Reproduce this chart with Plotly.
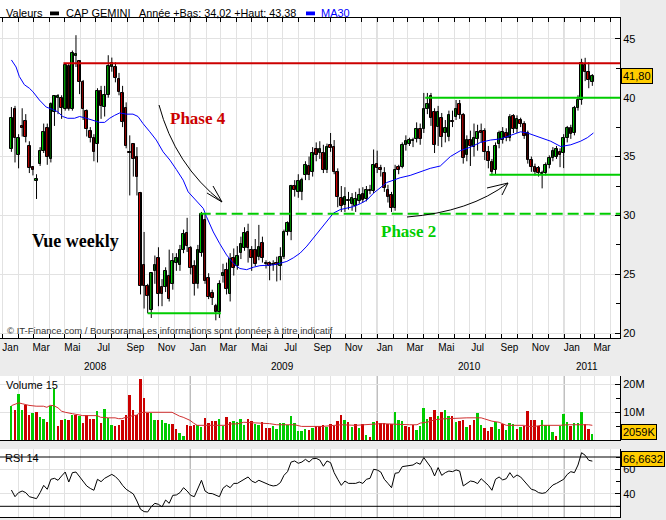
import pandas as pd
import plotly.graph_objects as go

# ---------------- data (weekly) ----------------
start_week = "2008-01-18"

opens = [35.6, 39.0, 35.1, 37.6, 38.0, 35.9, 34.1, 32.9, 34.4, 35.5,
         37.4, 34.8, 38.8, 40.0, 40.0, 39.0, 42.7, 39.0, 43.5, 43.1,
         41.3, 38.9, 37.2, 36.6, 36.1, 40.6, 39.2, 40.2, 42.6, 42.6,
         41.6, 40.4, 39.1, 35.4, 36.1, 35.0, 31.9, 25.8, 24.0, 22.0,
         25.3, 26.4, 23.9, 23.9, 24.9, 24.2, 26.0, 25.8, 27.1, 28.5,
         27.2, 25.7, 24.2, 26.8, 29.6, 24.7, 23.4, 22.3, 21.8, 24.9,
         25.4, 23.3, 26.4, 25.7, 26.8, 27.2, 28.6, 27.1, 27.1, 26.5,
         27.7, 26.0, 26.0, 25.8, 26.0, 25.7, 26.5, 28.6, 28.6, 32.5,
         32.0, 32.0, 33.4, 34.2, 33.7, 35.6, 35.3, 35.3, 33.9, 36.0,
         35.8, 33.7, 31.5, 30.9, 31.3, 31.0, 30.8, 31.2, 31.8, 31.4,
         32.2, 32.1, 34.4, 34.0, 33.6, 32.2, 31.7, 30.6, 34.1, 34.1,
         36.0, 36.1, 36.3, 36.5, 37.3, 37.3, 39.0, 40.1, 38.8, 37.5,
         38.3, 37.0, 36.7, 38.0, 38.4, 39.5, 38.5, 35.1, 36.4, 35.85,
         36.5, 37.2, 37.2, 35.4, 34.5, 33.9, 36.1, 36.4, 37.0, 36.55,
         38.45, 37.3, 38.1, 37.8, 37.0, 34.7, 34.1, 34.0, 33.5, 33.6,
         34.3, 34.86, 35.0, 35.4, 35.28, 36.55, 37.4, 37.0, 39.1, 39.8,
         42.8, 42.2, 41.3]
highs = [39.2, 39.3, 36.9, 39.1, 38.6, 36.3, 34.2, 33.5, 35.8, 37.8,
         37.8, 39.6, 40.2, 40.3, 40.2, 42.9, 42.9, 44.0, 45.3, 43.1,
         41.5, 39.0, 37.5, 36.9, 40.8, 41.0, 41.0, 43.6, 43.4, 43.0,
         42.1, 41.0, 39.6, 36.8, 36.1, 35.8, 32.0, 28.6, 24.2, 25.2,
         26.6, 27.3, 24.6, 25.6, 27.1, 26.8, 26.8, 27.5, 28.8, 29.8,
         27.4, 26.2, 27.5, 30.3, 30.1, 25.1, 23.7, 22.5, 24.5, 25.9,
         26.0, 26.8, 27.2, 27.4, 28.2, 29.0, 29.3, 27.4, 28.0, 29.2,
         28.2, 26.2, 26.1, 26.2, 26.5, 27.3, 28.8, 29.5, 32.6, 33.0,
         33.5, 33.2, 34.6, 35.0, 35.8, 36.2, 36.3, 36.0, 36.1, 37.0,
         36.4, 34.0, 32.5, 32.4, 32.0, 31.9, 32.0, 32.3, 32.4, 32.5,
         32.6, 35.6, 35.5, 34.3, 34.1, 32.6, 32.0, 34.3, 34.3, 36.2,
         36.8, 36.6, 36.6, 37.9, 37.8, 40.4, 40.4, 40.4, 39.1, 39.3,
         38.7, 38.1, 38.9, 38.9, 39.8, 39.8, 38.7, 36.8, 37.2, 37.8,
         37.7, 37.8, 37.4, 35.9, 34.8, 36.2, 37.2, 37.5, 37.4, 38.6,
         38.6, 38.5, 38.3, 38.0, 37.2, 35.0, 34.4, 34.2, 33.8, 34.5,
         35.1, 35.8, 35.9, 35.7, 36.9, 37.6, 37.7, 39.3, 40.2, 43.3,
         43.38, 43.0, 42.0]
lows = [35.4, 34.5, 34.0, 36.7, 36.2, 33.6, 33.4, 31.4, 34.2, 35.3,
        34.3, 34.5, 37.6, 38.6, 38.2, 38.9, 38.9, 38.9, 42.6, 40.3,
        38.1, 36.7, 36.2, 34.6, 34.5, 38.2, 38.4, 40.0, 42.2, 41.3,
        40.2, 37.5, 35.7, 31.7, 33.3, 31.7, 23.3, 22.1, 21.7, 21.3,
        24.2, 22.3, 22.3, 23.5, 22.7, 23.7, 25.3, 25.3, 26.8, 26.9,
        25.0, 23.2, 23.8, 26.5, 24.2, 22.9, 22.4, 21.1, 21.3, 24.3,
        23.3, 22.7, 24.9, 25.4, 26.3, 27.0, 26.0, 25.3, 25.7, 26.2,
        26.0, 25.5, 24.5, 25.3, 24.4, 24.5, 26.3, 28.3, 27.9, 31.6,
        31.5, 31.3, 33.0, 33.0, 33.3, 34.6, 34.8, 33.6, 33.6, 35.4,
        33.5, 30.7, 30.3, 30.3, 30.5, 30.4, 30.3, 31.0, 31.1, 31.2,
        31.8, 31.9, 33.6, 33.3, 32.0, 31.1, 30.3, 30.4, 33.5, 34.0,
        35.5, 35.9, 35.8, 36.2, 36.0, 37.0, 38.6, 37.6, 35.3, 35.9,
        35.8, 36.2, 36.3, 37.5, 38.1, 38.2, 34.4, 34.6, 34.2, 35.0,
        35.5, 36.2, 34.7, 34.0, 33.4, 33.5, 35.7, 36.1, 36.3, 36.3,
        37.0, 37.0, 37.5, 36.5, 34.4, 33.7, 33.4, 33.3, 32.3, 33.4,
        34.0, 34.6, 34.8, 34.1, 34.02, 36.2, 36.5, 36.8, 38.9, 39.4,
        41.4, 40.8, 41.0]
closes = [38.3, 36.6, 36.6, 37.4, 36.7, 34.0, 33.9, 33.1, 35.5, 37.1,
          35.0, 39.5, 40.1, 40.1, 39.1, 42.8, 39.0, 43.8, 43.7, 41.3,
          39.0, 37.3, 36.6, 35.4, 40.6, 39.3, 40.2, 42.7, 42.9, 41.7,
          40.5, 37.9, 35.9, 35.3, 34.8, 33.3, 24.0, 24.0, 23.2, 25.1,
          25.8, 23.3, 23.3, 25.3, 22.9, 26.1, 26.4, 27.1, 28.4, 27.4,
          25.5, 24.2, 27.1, 30.1, 24.4, 23.1, 23.0, 21.8, 24.2, 25.1,
          23.8, 26.3, 25.5, 26.6, 27.6, 28.5, 27.2, 26.4, 25.9, 27.3,
          26.4, 25.9, 25.7, 25.9, 25.8, 26.5, 28.6, 29.4, 32.5, 32.2,
          32.9, 33.0, 34.3, 33.4, 35.3, 35.1, 35.6, 33.9, 35.8, 35.7,
          33.7, 31.6, 30.8, 31.6, 31.2, 31.5, 31.4, 31.7, 31.3, 32.2,
          32.1, 34.3, 34.0, 33.9, 32.3, 31.6, 30.6, 33.9, 33.9, 36.0,
          36.3, 36.4, 36.4, 37.3, 36.5, 39.0, 39.5, 38.25, 36.0, 38.8,
          36.7, 37.4, 38.5, 37.9, 39.0, 38.5, 34.9, 36.4, 35.9, 36.6,
          37.1, 37.0, 35.4, 34.6, 33.7, 35.9, 37.0, 37.1, 36.6, 38.4,
          37.3, 38.2, 37.8, 36.75, 34.7, 34.15, 33.7, 33.6, 33.6, 34.3,
          34.86, 35.5, 35.6, 35.1, 36.55, 37.4, 36.9, 39.1, 39.8, 42.9,
          42.2, 41.5, 41.8]

volume_m = [12.4, 11.0, 16.6, 11.0, 12.8, 9.2, 9.8, 10.1, 8.3, 7.7,
            6.5, 12.2, 18.4, 5.2, 7.3, 7.6, 7.3, 9.2, 9.2, 8.6,
            6.1, 8.9, 7.7, 7.7, 10.6, 6.1, 11.3, 7.8, 5.3, 4.9,
            5.5, 7.3, 9.2, 16.4, 11.0, 9.2, 22.0, 15.2, 9.8, 9.8,
            7.3, 7.1, 7.1, 6.1, 5.8, 5.8, 4.0, 2.5, 1.6, 5.5,
            4.9, 5.3, 5.5, 4.7, 8.0, 6.1, 7.0, 7.0, 7.6, 4.9,
            8.3, 6.4, 7.0, 6.4, 7.6, 5.5, 7.6, 7.0, 5.8, 5.5,
            6.4, 4.3, 4.3, 5.1, 3.9, 6.1, 6.1, 5.5, 8.8, 6.1,
            3.1, 3.1, 4.0, 3.7, 4.3, 4.9, 4.9, 5.5, 4.6, 5.8,
            5.2, 7.0, 9.2, 7.3, 6.5, 4.7, 5.8, 4.3, 5.8, 1.9,
            1.1, 6.5, 6.7, 6.1, 6.1, 5.8, 5.8, 10.1, 7.1, 6.7,
            5.2, 4.7, 5.3, 3.7, 4.9, 11.6, 7.7, 8.2, 11.0, 8.5,
            10.1, 11.0, 8.5, 8.8, 6.5, 7.0, 7.3, 4.6, 5.5, 7.3,
            9.8, 5.5, 4.3, 3.1, 4.6, 6.4, 4.1, 5.9, 3.7, 6.1,
            5.9, 4.1, 4.6, 4.9, 10.6, 7.3, 7.3, 4.9, 7.3, 5.5,
            5.5, 2.8, 1.6, 4.9, 9.5, 6.4, 4.9, 6.1, 6.1, 10.1,
            5.8, 4.0, 2.059]
volume_dir = ("GRGGRRGRGG" "RGGRRGRGRG" "RRRRGRGGGR" "RRRRRRRRRG"
              "GRGGGRRGGR" "RRGGRRRRGG" "RRGGGGRRGG" "RRRGGGGGGG"
              "GGGRGRRRGR" "RRRGRGRGRG" "RGRRRRRGGG" "RRRGGGGRRG"
              "RGGRGRRGRR" "GGRRRGGRGG" "GRGRRRRRGG" "GGRGGGRGGG" "RRG")

rsi14 = [43.2, 37.8, 41.1, 42.4, 41.1, 37.8, 37.0, 36.2, 41.1, 47.0,
         43.8, 51.9, 52.7, 51.1, 54.6, 57.8, 49.7, 57.3, 57.8, 54.1,
         50.0, 46.5, 44.5, 43.0, 51.9, 50.0, 52.7, 54.6, 55.9, 54.1,
         51.1, 47.0, 43.8, 41.9, 40.0, 34.3, 27.6, 25.7, 25.4, 29.7,
         32.4, 31.6, 29.5, 35.1, 32.4, 38.9, 39.2, 41.1, 45.1, 42.4,
         38.9, 37.8, 43.8, 51.1, 42.4, 40.5, 40.3, 39.2, 37.8, 44.6,
         47.0, 45.1, 48.6, 48.6, 50.5, 52.4, 53.8, 50.5, 49.2, 51.1,
         49.7, 48.4, 47.3, 46.5, 47.0, 49.2, 55.1, 58.1, 65.9, 66.8,
         64.9, 65.9, 68.1, 65.9, 68.6, 68.9, 67.5, 62.5, 66.8, 65.4,
         57.3, 51.9, 47.0, 50.5, 48.6, 48.6, 48.6, 49.7, 48.6, 51.9,
         52.7, 60.0, 59.5, 57.8, 51.9, 48.6, 45.1, 56.8, 57.3, 62.2,
         62.7, 62.7, 63.5, 65.4, 64.1, 69.5, 64.9, 61.4, 54.6, 61.4,
         55.1, 57.3, 58.6, 58.1, 59.5, 58.6, 46.5, 48.6, 50.5, 50.0,
         48.4, 52.4, 50.0, 47.0, 43.0, 51.9, 53.8, 51.4, 52.4, 57.3,
         53.2, 55.4, 53.8, 50.5, 47.0, 43.8, 43.0, 41.1, 40.5, 41.1,
         44.3, 47.3, 48.6, 50.0, 51.9, 55.9, 58.1, 57.3, 63.5, 73.5,
         71.4, 67.3, 66.66]

ma30_week = [0, 1.3, 2.2, 3.6, 5.0, 6.0, 7.8, 9.7, 11.5, 12.9,
             14.3, 15.7, 17.6, 19.0, 20.9, 22.7, 24.6, 26.0, 27.4, 28.8,
             30.2, 32.1, 33.9, 35.3, 36.7, 38.6, 40.4, 42.3, 44.2, 46.0,
             47.9, 49.3, 50.7, 52.5, 53.5, 54.4, 56.3, 58.1, 60.0, 61.9,
             63.7, 65.6, 67.4, 69.3, 71.2, 73.0, 74.9, 76.8, 78.6, 80.5,
             82.4, 84.2, 86.1, 88.0, 89.8, 91.7, 93.5, 95.4, 97.3, 99.1,
             101.0, 102.9, 104.7, 106.6, 108.4, 111.2, 114.0, 116.8, 119.6, 122.4,
             125.2, 128.0, 130.8, 133.6, 136.4, 139.2, 142.0, 143.9, 145.7, 147.6,
             150.4, 153.2, 156.0, 158.7, 160.6, 162.3]
ma30_val = [43.2, 42.6, 41.8, 41.1, 40.8, 40.5, 39.8, 39.2, 39.0, 38.8,
            38.4, 38.25, 38.25, 38.4, 38.25, 38.1, 37.9, 37.9, 38.25, 38.5,
            38.7, 38.6, 38.6, 38.4, 37.8, 37.1, 36.4, 35.4, 34.7, 33.9,
            33.0, 32.0, 31.5, 30.9, 30.6, 29.9, 28.6, 27.6, 26.65, 25.94,
            25.5, 25.4, 25.6, 25.74, 25.8, 25.8, 25.94, 26.1, 26.4, 26.8,
            27.4, 28.1, 28.8, 29.6, 30.2, 30.5, 30.6, 30.75, 31.0, 31.3,
            31.9, 32.4, 32.8, 33.0, 33.2, 33.4, 33.7, 34.0, 34.2, 35.0,
            35.5, 35.8, 36.2, 36.4, 36.5, 36.8, 37.1, 37.0, 36.8, 36.55,
            36.3, 35.85, 36.0, 36.3, 36.6, 37.0]

vma15_week = [0, 1.1, 2.0, 3.0, 3.9, 4.9, 6.9, 8.9, 9.9, 10.8,
              11.8, 13.0, 14.0, 15.0, 17.0, 17.9, 19.9, 23.9, 24.9, 27.0,
              28.9, 29.9, 30.8, 31.9, 32.9, 33.8, 34.8, 35.8, 36.8, 44.8,
              45.8, 46.9, 47.9, 48.8, 49.8, 50.8, 51.8, 59.7, 60.9, 62.9,
              64.8, 72.0, 74.0, 79.0, 80.9, 86.8, 88.0, 92.0, 96.0, 100.1,
              103.1, 111.0, 113.1, 114.0, 116.1, 118.1, 120.0, 127.0, 131.0, 132.0,
              134.0, 136.0, 137.0, 138.0, 143.0, 143.8, 145.9, 147.8, 153.0, 154.9,
              161.0, 162.0]
vma15_val = [12.4, 13.1, 13.4, 13.1, 12.8, 12.5, 12.2, 12.2, 11.8, 12.5,
             12.4, 11.6, 10.4, 10.0, 9.5, 9.2, 8.8, 8.8, 8.2, 8.0,
             8.0, 7.7, 7.7, 8.2, 8.2, 8.9, 8.9, 9.8, 10.0, 10.0,
             9.2, 8.6, 8.2, 7.7, 7.1, 6.1, 5.3, 5.3, 5.8, 5.8,
             6.4, 5.9, 5.5, 5.5, 4.9, 4.9, 5.1, 5.5, 5.3, 5.5,
             5.9, 5.5, 5.5, 6.1, 6.5, 7.3, 7.6, 8.0, 8.0, 7.6,
             6.8, 6.4, 5.8, 5.3, 5.3, 4.9, 4.9, 5.3, 5.3, 5.5,
             5.5, 5.3]

# drawn levels (price, start week, end week)
level_red = (42.92, 14.5, None)
level_green_40 = (40.0, 115.4, None)
level_green_33 = (33.45, 133.3, None)
level_green_30_dash = (30.15, 52.5, None)
level_green_bottom = (21.7, 38.0, 58.4)

month_names = ["Jan", "Mar", "Mai", "Jul", "Sep", "Nov"]
year_labels = ["2008", "2009", "2010", "2011"]
year_label_dates = ["2008-07-01", "2009-07-01", "2010-07-01", "2011-02-15"]
year_starts = ["2009-01-01", "2010-01-01", "2011-01-01"]
last_price_txt = "41,80"
last_volume_txt = "2059K"
last_rsi_txt = "66,6632"
last_rsi = 66.6632

# ---------------- helpers ----------------
FIG_W, FIG_H = 666, 520
M_R = 46
PW = FIG_W - M_R


def px(x):
    return x / PW


def py(y):
    return 1 - y / FIG_H


t0 = pd.Timestamp(start_week)


def wdate(w):
    return t0 + pd.Timedelta(days=7 * w)


n = len(closes)
dates = [wdate(i) for i in range(n)]
x_range = [pd.Timestamp("2007-12-26 17:00"), pd.Timestamp("2011-04-20 00:00")]

UP, DOWN = "#00cc00", "#cc0000"
body_col = [UP if c >= o else DOWN for o, c in zip(opens, closes)]
body_base = [min(o, c) for o, c in zip(opens, closes)]
body_h = [max(abs(c - o), 0.07) for o, c in zip(opens, closes)]
wick_x, wick_y = [], []
for d, h, l in zip(dates, highs, lows):
    wick_x += [d, d, None]
    wick_y += [h, l, None]
vol_col = [UP if s == "G" else DOWN for s in volume_dir]

DAY_MS = 86400000
FONT = "Liberation Sans, Arial, sans-serif"
SERIF = "Liberation Serif, Times New Roman, serif"
GRID = "#e2e2e2"

fig = go.Figure()
fig.add_trace(go.Scatter(x=wick_x, y=wick_y, mode="lines",
                         line=dict(color="black", width=1), hoverinfo="skip",
                         xaxis="x", yaxis="y"))
fig.add_trace(go.Bar(x=dates, y=body_h, base=body_base, width=7 * 0.72 * DAY_MS,
                     marker=dict(color=body_col, line=dict(color="black", width=1)),
                     xaxis="x", yaxis="y"))
fig.add_trace(go.Scatter(x=[wdate(w) for w in ma30_week], y=ma30_val, mode="lines",
                         line=dict(color="#0000ff", width=1), xaxis="x", yaxis="y"))
fig.add_trace(go.Bar(x=dates, y=volume_m, width=7 * 0.55 * DAY_MS,
                     marker=dict(color=vol_col, line=dict(width=0)),
                     xaxis="x2", yaxis="y2"))
fig.add_trace(go.Scatter(x=[wdate(w) for w in vma15_week], y=vma15_val, mode="lines",
                         line=dict(color="#d03030", width=1), xaxis="x2", yaxis="y2"))
fig.add_trace(go.Scatter(x=dates, y=rsi14, mode="lines",
                         line=dict(color="black", width=1), xaxis="x3", yaxis="y3"))

# month ticks (mid-month labels)
tickvals, ticktext = [], []
for yr in [2008, 2009, 2010, 2011]:
    for k, m in enumerate([1, 3, 5, 7, 9, 11]):
        d = pd.Timestamp(year=yr, month=m, day=16)
        if d > pd.Timestamp("2011-04-01"):
            break
        tickvals.append(d)
        ticktext.append(month_names[k])

minor_grid = dict(dtick="M1", tick0="2008-01-01", showgrid=True, gridcolor=GRID,
                  gridwidth=1)
xcommon = dict(type="date", range=x_range, domain=[0, 1], zeroline=False,
               showgrid=False, showline=True, linecolor="black", linewidth=1)

fig.update_layout(
    width=FIG_W, height=FIG_H,
    margin=dict(l=0, r=M_R, t=0, b=0),
    paper_bgcolor="#ececec", plot_bgcolor="white",
    showlegend=False, barmode="overlay", bargap=0,
    font=dict(family=FONT, size=11, color="black"),
    xaxis=dict(**xcommon, anchor="y", mirror="allticks",
               tickvals=tickvals, ticktext=ticktext, ticks="",
               tickfont=dict(size=10),
               minor=dict(**minor_grid, ticks="inside", ticklen=4, tickcolor="black")),
    xaxis2=dict(**xcommon, anchor="y2", matches="x", showticklabels=False, ticks="",
                minor=dict(**minor_grid, ticks="")),
    xaxis3=dict(**xcommon, anchor="y3", matches="x", showticklabels=False, ticks="",
                minor=dict(**minor_grid, ticks="")),
    yaxis=dict(domain=[py(338), py(18)], range=[19.6, 46.76], side="right", anchor="x",
               tickvals=[20, 25, 30, 35, 40, 45], ticks="inside", ticklen=5,
               tickcolor="black", showline=True, linecolor="black",
               showgrid=True, gridcolor=GRID, zeroline=False,
               minor=dict(dtick=2.5, tick0=0, ticks="inside", ticklen=4,
                          tickcolor="black", showgrid=False)),
    yaxis2=dict(domain=[py(440), py(376)], range=[0, 23.1], side="right", anchor="x2",
                tickvals=[10, 20], ticktext=["10M", "20M"], ticks="inside", ticklen=5,
                tickcolor="black", showline=True, linecolor="black",
                showgrid=True, gridcolor=GRID, zeroline=False,
                minor=dict(dtick=5, tick0=0, ticks="inside", ticklen=4,
                           tickcolor="black", showgrid=False)),
    yaxis3=dict(domain=[py(517), py(449)], range=[21.32, 76.49], side="right", anchor="x3",
                tickvals=[40, 60], ticks="inside", ticklen=5,
                tickcolor="black", showline=True, linecolor="black",
                showgrid=True, gridcolor=GRID, zeroline=False,
                minor=dict(dtick=10, tick0=0, ticks="inside", ticklen=4,
                           tickcolor="black", showgrid=False)),
)

shapes = []
# white legend strip
shapes.append(dict(type="rect", xref="paper", yref="paper", x0=0, x1=1,
                   y0=py(18), y1=1, fillcolor="white", line=dict(width=0), layer="below"))
# year separators
for ys in year_starts:
    for yr in ["y domain", "y2 domain", "y3 domain"]:
        shapes.append(dict(type="line", xref="x", yref=yr, x0=ys, x1=ys, y0=0, y1=1,
                           line=dict(color="#a0a0a0", width=1), layer="below"))


def level_shape(level, color, dash="solid"):
    price, w0, w1 = level
    x1 = x_range[1] if w1 is None else wdate(w1)
    return dict(type="line", xref="x", yref="y", x0=wdate(w0), x1=x1,
                y0=price, y1=price, line=dict(color=color, width=2, dash=dash))


shapes.append(level_shape(level_red, "#cc0000"))
shapes.append(level_shape(level_green_40, "#00cc00"))
shapes.append(level_shape(level_green_33, "#00cc00"))
shapes.append(level_shape(level_green_30_dash, "#00cc00", dash="11px,5px"))
shapes.append(level_shape(level_green_bottom, "#00cc00"))
# RSI 30/70 lines
for lv in [30, 70]:
    shapes.append(dict(type="line", xref="paper", yref="y3", x0=0, x1=1, y0=lv, y1=lv,
                       line=dict(color="black", width=1)))


def pth(points, curve=False):
    s = f"M {px(points[0][0])},{py(points[0][1])}"
    if curve:
        s += f" Q {px(points[1][0])},{py(points[1][1])} {px(points[2][0])},{py(points[2][1])}"
    else:
        for p in points[1:]:
            s += f" L {px(p[0])},{py(p[1])}"
    return s


arrow_line = dict(color="black", width=1)
shapes.append(dict(type="path", xref="paper", yref="paper",
                   path=pth([(159, 105), (175, 165), (222, 202)], curve=True), line=arrow_line))
shapes.append(dict(type="path", xref="paper", yref="paper",
                   path=pth([(213, 186), (222, 202), (207, 193)]), line=arrow_line))
shapes.append(dict(type="path", xref="paper", yref="paper",
                   path=pth([(407, 217), (470, 212), (508, 183)], curve=True), line=arrow_line))
shapes.append(dict(type="path", xref="paper", yref="paper",
                   path=pth([(487, 188), (508, 183), (502, 195)]), line=arrow_line))
# legend swatches
shapes.append(dict(type="rect", xref="paper", yref="paper", x0=px(50), x1=px(59),
                   y0=py(15.3), y1=py(11.5), fillcolor="black", line=dict(width=0)))
shapes.append(dict(type="rect", xref="paper", yref="paper", x0=px(306), x1=px(315),
                   y0=py(15.3), y1=py(11.5), fillcolor="#0000ff", line=dict(width=0)))
fig.update_layout(shapes=shapes)

ann = []


def txt(text, x, y, size=10, color="black", family=FONT, xanchor="left", bold=False):
    if bold:
        text = f"<b>{text}</b>"
    ann.append(dict(text=text, x=px(x), y=py(y), xref="paper", yref="paper",
                    xanchor=xanchor, yanchor="middle", showarrow=False,
                    font=dict(size=size, color=color, family=family)))


txt("Valeurs", 4, 12.5, size=11)
txt("CAP GEMINI", 64, 12.5, size=11)
txt("Année +Bas: 34,02 +Haut: 43,38", 137, 12.5, size=10.8)
txt("MA30", 319, 12.5, size=11, color="#0000ff")
txt("Phase 4", 198, 119, size=17, color="#cc0000", family=SERIF, xanchor="center", bold=True)
txt("Phase 2", 408, 232, size=17, color="#00cc00", family=SERIF, xanchor="center", bold=True)
txt("Vue weekly", 75, 241, size=18, family=SERIF, xanchor="center", bold=True)
txt("© IT-Finance.com / BoursoramaLes informations sont données à titre indicatif",
    5, 330, size=9.5, color="#333333")
txt("Volume 15", 4, 384.5, size=11)
txt("RSI 14", 3, 458, size=11)

for lab, d in zip(year_labels, year_label_dates):
    ann.append(dict(text=lab, x=d, y=py(366), xref="x", yref="paper", xanchor="center",
                    yanchor="middle", showarrow=False, font=dict(size=10)))

box = dict(bgcolor="#ffcc00", bordercolor="black", borderwidth=1, borderpad=1,
           showarrow=False, xanchor="left", yanchor="middle", xref="paper")
ann.append(dict(text=last_price_txt, x=1, xshift=1, y=closes[-1], yref="y",
                font=dict(size=11), **box))
ann.append(dict(text=last_volume_txt, x=1, xshift=1, y=py(431.7), yref="paper",
                font=dict(size=11), **box))
ann.append(dict(text=last_rsi_txt, x=1, xshift=1, y=last_rsi, yref="y3", yshift=2,
                font=dict(size=11), **box))
fig.update_layout(annotations=ann)

fig.write_html("out.html")
